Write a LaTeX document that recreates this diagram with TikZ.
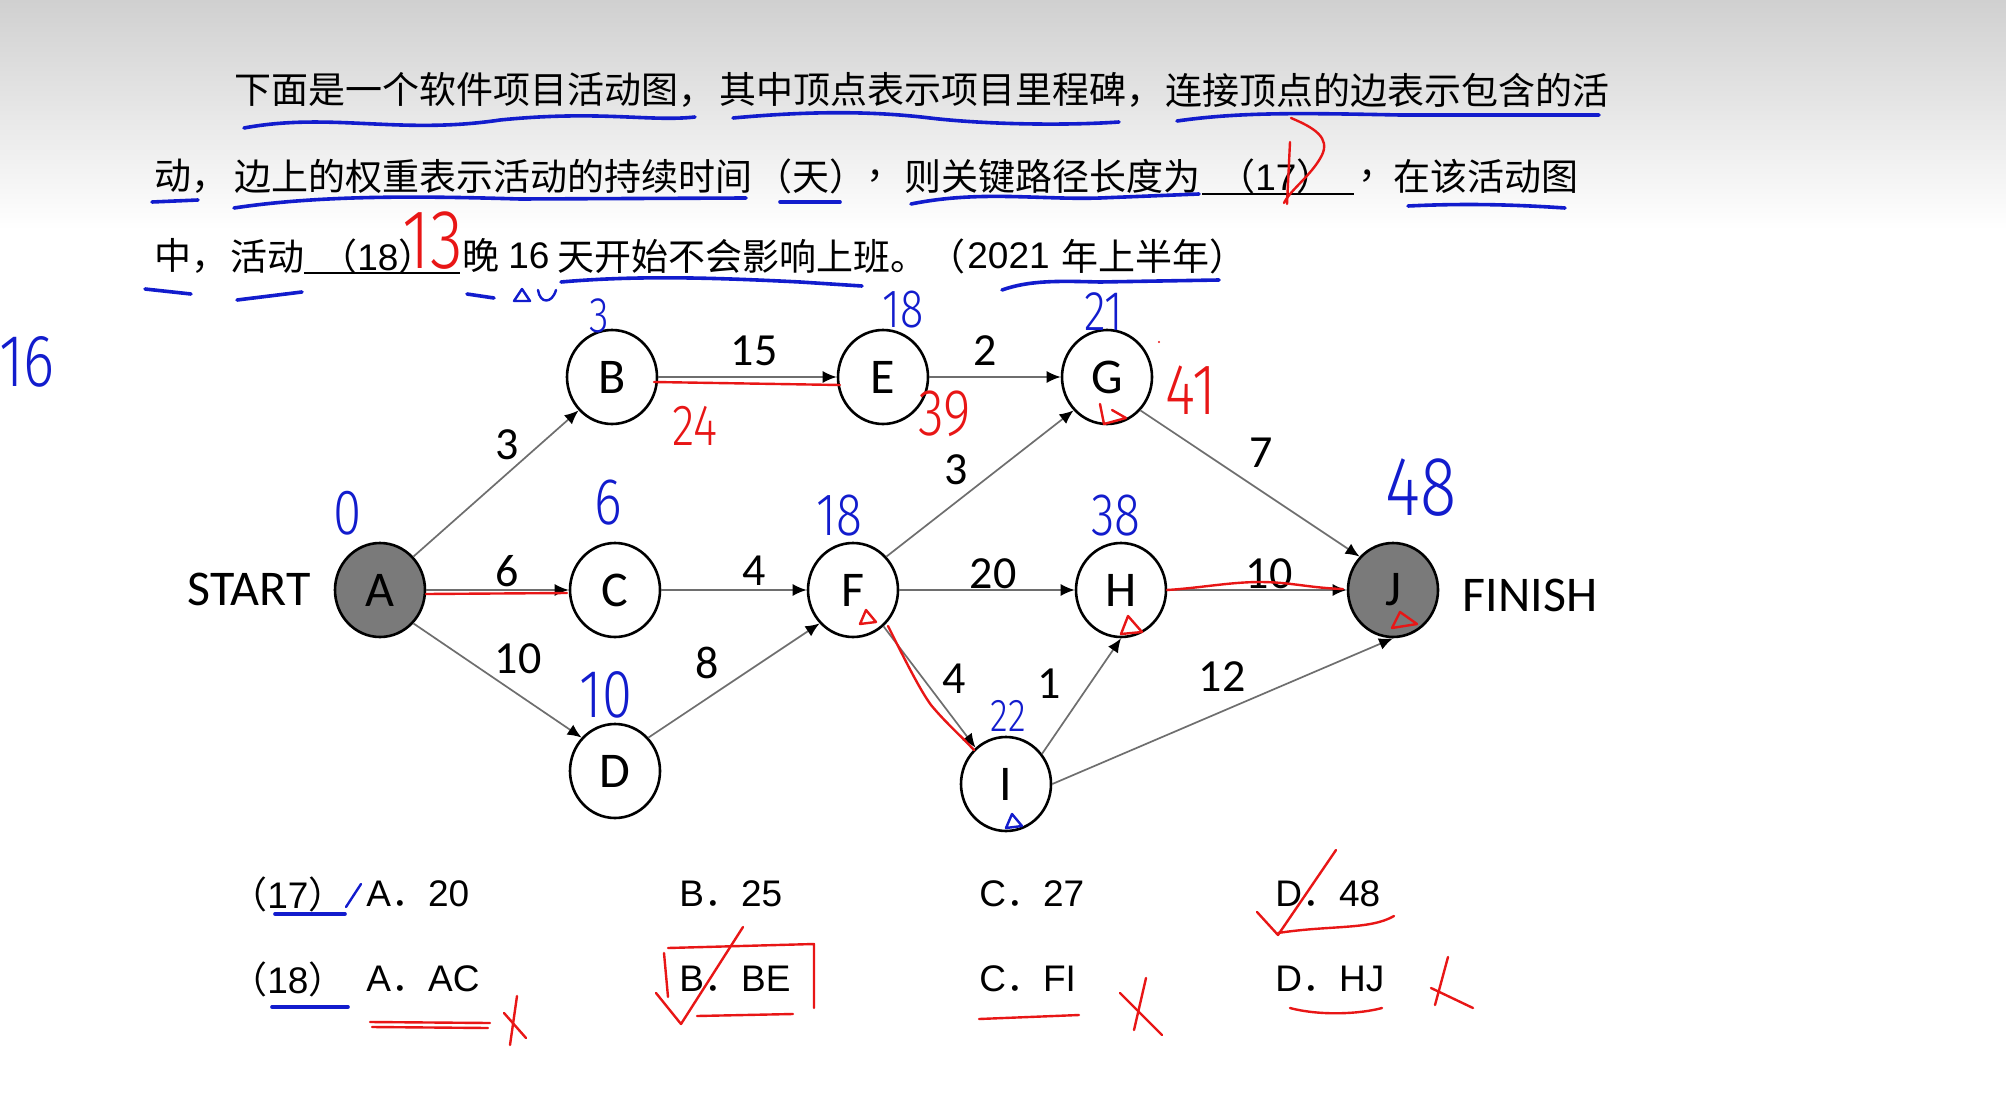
\documentclass[tikz,border=0pt]{standalone}
\usepackage{fontspec}
\setmainfont{Liberation Sans}
\newfontfamily\cjk{Noto Sans CJK SC}
\newfontfamily\calfont{Carlito}
\newfontfamily\handfont{Fira Sans}[UprightFont={* Light}, FakeStretch=0.8]
\usetikzlibrary{arrows.meta,shapes.geometric}
\newcommand\myfs[1]{\fontsize{#1}{#1}\selectfont}
\newcommand\cmm{\makebox[0.62em][l]{，}}
\definecolor{bgtop}{RGB}{208,208,208}
\definecolor{edgegray}{RGB}{110,110,110}
\definecolor{nodegray}{RGB}{122,122,122}
\definecolor{penblue}{RGB}{18,28,205}
\definecolor{penred}{RGB}{232,22,22}
\tikzset{
  vtx/.style={ellipse, draw=black, line width=1.3pt, minimum width=45pt, minimum height=47pt, inner sep=0pt, fill=white, font=\calfont\myfs{25}},
  vtxd/.style={vtx, fill=nodegray},
  conn/.style={draw=edgegray, line width=0.85pt, -{Latex[length=7pt,width=6pt,color=black]}},
  elabel/.style={inner sep=0pt, font=\calfont\myfs{23}},
  txt/.style={anchor=west, inner sep=0pt, font=\cjk\myfs{18.5}},
  opt/.style={anchor=west, inner sep=0pt, font=\myfs{18.5}},
  blankline/.style={draw=black, line width=1.3pt},
  bpen/.style={draw=penblue, line width=1.8pt, line cap=round, line join=round},
  rpen/.style={draw=penred, line width=1.2pt, line cap=round, line join=round},
  hb/.style={inner sep=0pt, text=penblue, font=\handfont\myfs{#1}},
  hr/.style={inner sep=0pt, text=penred, font=\handfont\myfs{#1}},
}
\begin{document}
\begin{tikzpicture}[x=0.5pt,y=-0.5pt]
\useasboundingbox (0,0) rectangle (2006,1118);
\fill[white] (0,0) rectangle (2006,1118);
\shade[top color=bgtop, bottom color=white] (0,0) rectangle (2006,230);

% ---------------- question text ----------------
\node[txt] (t1a) at (234,90) {下面是一个软件项目活动图\cmm};
\node[txt] (t1c) at (719,90) {其中顶点表示项目里程碑\cmm};
\node[txt] (t1e) at (1165,90) {连接顶点的边表示包含的活};

\node[txt] (t2a) at (154,176) {动\cmm};
\node[txt] (t2c) at (234,176) {边上的权重表示活动的持续时间};
\node[txt] (t2d) at (755,176) {（天）};
\node[txt] (t2e) at (866,176) {\cmm};
\node[txt] (t2f) at (904,176) {则关键路径长度为};
\node[txt] (t2g) at (1218,176) {（{\rmfamily 17}）};
\node[txt] (t2h) at (1358,176) {\cmm};
\node[txt] (t2i) at (1393,176) {在该活动图};
\draw[blankline] (1202,194) -- (1354,194);

\node[txt] (t3a) at (154,256) {中\cmm};
\node[txt] (t3c) at (230,256) {活动};
\node[txt] (t3d) at (320,256) {（{\rmfamily 18}）};
\draw[blankline] (304,273) -- (460,273);
\node[txt] (t3e) at (462,256) {晚};
\node[opt] (t3f) at (508,256) {16};
\node[txt] (t3g) at (557,256) {天开始不会影响上班。};
\node[txt] (t3h) at (928,256) {（};
\node[opt] (t3i) at (967,256) {2021};
\node[txt] (t3j) at (1061,256) {年上半年）};

% ---------------- graph ----------------
\node[vtxd] (A) at (380,590) {A};
\node[vtx] (B) at (612,377) {B};
\node[vtx] (C) at (615,590) {C};
\node[vtx] (D) at (615,771) {D};
\node[vtx] (E) at (883,377) {E};
\node[vtx] (F) at (853,590) {F};
\node[vtx] (G) at (1107,377) {G};
\node[vtx] (H) at (1121,590) {H};
\node[vtx] (I) at (1006,784) {I};
\node[vtxd] (J) at (1393,590) {J};
\node[inner sep=0pt, font=\calfont\myfs{25}] (start) at (249,589) {START};
\node[inner sep=0pt, font=\calfont\myfs{25}] (finish) at (1530,595) {FINISH};

\draw[conn] (A.45) -- (B.225);
\draw[conn] (A) -- (C);
\draw[conn] (A.-45) -- (D.135);
\draw[conn] (B) -- (E);
\draw[conn] (C) -- (F);
\draw[conn] (D.45) -- (F.225);
\draw[conn] (E) -- (G);
\draw[conn] (F.45) -- (G.225);
\draw[conn] (F) -- (H);
\draw[conn] (F.-50) -- (I.130);
\draw[conn] (I.40) -- (H.south);
\draw[conn] (G.-45) -- (J.135);
\draw[conn] (H) -- (J);
\draw[conn] (I.east) -- (J.south);

\node[elabel] (lAB) at (507,445) {3};
\node[elabel] (lAC) at (507,571) {6};
\node[elabel] (lAD) at (518,659) {10};
\node[elabel] (lBE) at (754,351) {15};
\node[elabel] (lCF) at (754,571) {4};
\node[elabel] (lDF) at (707,663) {8};
\node[elabel] (lEG) at (985,351) {2};
\node[elabel] (lFG) at (956,470) {3};
\node[elabel] (lFH) at (993,574) {20};
\node[elabel] (lFI) at (954,679) {4};
\node[elabel] (lIH) at (1049,684) {1};
\node[elabel] (lGJ) at (1261,453) {7};
\node[elabel] (lHJ) at (1269,574) {10};
\node[elabel] (lIJ) at (1222,677) {12};

% ---------------- options ----------------
\node[opt] (o1) at (230,894) {{\cjk （}17{\cjk ）}};
\node[opt] (o1a) at (366,894) {A{\cjk ．}20};
\node[opt] (o1b) at (679,894) {B{\cjk ．}25};
\node[opt] (o1c) at (979,894) {C{\cjk ．}27};
\node[opt] (o1d) at (1275,894) {D{\cjk ．}48};
\node[opt] (o2) at (230,979) {{\cjk （}18{\cjk ）}};
\node[opt] (o2a) at (366,979) {A{\cjk ．}AC};
\node[opt] (o2b) at (679,979) {B{\cjk ．}BE};
\node[opt] (o2c) at (979,979) {C{\cjk ．}FI};
\node[opt] (o2d) at (1275,979) {D{\cjk ．}HJ};

% ---------------- blue handwriting ----------------
\draw[bpen] (244,128) .. controls (330,112) and (400,135) .. (500,120) .. controls (600,110) and (650,122) .. (695,117);
\draw[bpen] (733,118) .. controls (820,110) and (880,112) .. (930,118) .. controls (980,124) and (1060,126) .. (1119,122);
\draw[bpen] (1177,121) .. controls (1240,112) and (1300,113) .. (1400,115) -- (1599,115);
\draw[bpen] (152,202) -- (198,200);
\draw[bpen] (234,208) .. controls (320,195) and (420,196) .. (520,199) -- (746,198);
\draw[bpen] (780,202) -- (840,202);
\draw[bpen] (911,204) .. controls (980,190) and (1040,200) .. (1100,198) -- (1199,194);
\draw[bpen] (1408,206) .. controls (1470,203) and (1520,205) .. (1565,208);
\draw[bpen] (145,289) -- (191,294);
\draw[bpen] (237,300) -- (302,292);
\draw[bpen] (467,294) -- (494,298);
\draw[bpen, line width=1.2pt] (514,301) -- (522,289) -- (530,301) -- cycle;
\draw[bpen, line width=1.2pt] (538,290) .. controls (540,304) and (552,304) .. (556,290);
\draw[bpen] (561,282) .. controls (640,275) and (720,278) .. (800,282) -- (862,286);
\draw[bpen] (1002,290) .. controls (1030,280) and (1060,281) .. (1100,282) -- (1219,280);

\node[hb=37, anchor=west] (n16) at (-1,362) {16};
\node[hb=25] (nB) at (599,316) {3};
\node[hb=27] (nE) at (903,310) {18};
\node[hb=28] (nG) at (1104,312) {21};
\node[hb=32] (nA) at (348,513) {0};
\node[hb=33] (nC) at (608,503) {6};
\node[hb=30] (nF) at (839,516) {18};
\node[hb=34] (nD) at (606,695) {10};
\node[hb=23] (nI) at (1008,716) {22};
\node[hb=30] (nH) at (1116,516) {38};
\node[hb=42] (nJ) at (1421,488) {48};
\draw[bpen, line width=1.2pt] (1006,828) -- (1012,814) -- (1022,826) -- cycle;

\draw[bpen] (275,914) -- (345,914);
\draw[bpen, line width=1.2pt] (346,907) -- (361,884);
\draw[bpen] (272,1007) -- (348,1007);

% ---------------- red handwriting ----------------
\draw[rpen] (426,594) -- (567,593);
\draw[rpen] (654,382) -- (840,385);
\draw[rpen] (888,626) .. controls (905,660) and (920,690) .. (931,705) .. controls (945,722) and (960,735) .. (974,750);
\draw[rpen] (1167,590) .. controls (1200,588) and (1230,582) .. (1260,582) .. controls (1290,582) and (1310,588) .. (1343,589);
\draw[rpen] (860,624) -- (866,610) -- (876,622) -- cycle;
\draw[rpen] (1100,404) -- (1104,424) -- (1126,418) -- (1112,410);
\draw[rpen] (1121,634) -- (1128,616) -- (1142,632) -- cycle;
\draw[rpen] (1392,628) -- (1400,612) -- (1417,624) -- cycle;
\fill[penred] (1159,342) circle (1.2);

\node[hr=29] (r24) at (695,426) {24};
\node[hr=33] (r39) at (945,414) {39};
\node[hr=36] (r41) at (1191,390) {41};
\node[hr=42] (r13) at (433,241) {13};
\draw[rpen] (1291,118) .. controls (1315,128) and (1330,138) .. (1322,155) .. controls (1312,175) and (1290,190) .. (1284,203);
\draw[rpen] (1290,142) -- (1287,204);

\draw[rpen] (1257,912) -- (1278,935) -- (1336,850);
\draw[rpen] (1278,933) .. controls (1330,925) and (1370,930) .. (1394,916);
\draw[rpen] (370,1022) -- (490,1023);
\draw[rpen] (372,1027) -- (488,1028);
\draw[rpen] (517,996) -- (510,1045);
\draw[rpen] (504,1013) -- (526,1038);
\draw[rpen] (668,948) -- (814,944) -- (814,1008);
\draw[rpen] (664,953) -- (668,997);
\draw[rpen] (697,1016) -- (793,1014);
\draw[rpen] (656,993) -- (681,1024) -- (743,927);
\draw[rpen] (979,1019) -- (1079,1015);
\draw[rpen] (1146,978) -- (1134,1030);
\draw[rpen] (1120,993) -- (1162,1035);
\draw[rpen] (1290,1008) .. controls (1320,1016) and (1360,1014) .. (1382,1008);
\draw[rpen] (1448,957) -- (1435,1005);
\draw[rpen] (1431,988) -- (1473,1008);
\end{tikzpicture}
\end{document}
